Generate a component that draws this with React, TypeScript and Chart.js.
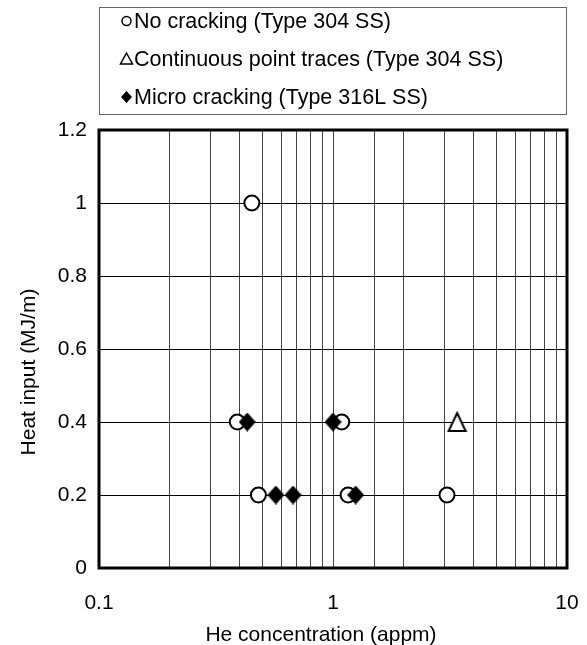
import React, { useEffect, useRef } from "react";
import { Chart, registerables } from "chart.js";

Chart.register(...registerables);

const legendLabels = [
  "No cracking (Type 304 SS)",
  "Continuous point traces (Type 304 SS)",
  "Micro cracking (Type 316L SS)",
];
const noCrackX = [0.45, 0.39, 1.09, 0.48, 1.16, 3.07];
const noCrackY = [1.0, 0.4, 0.4, 0.2, 0.2, 0.2];
const traceX = [3.39];
const traceY = [0.4];
const microX = [0.43, 1.0, 0.57, 0.675, 1.25];
const microY = [0.4, 0.4, 0.2, 0.2, 0.2];
const xTickLabels = [0.1, 1, 10];
const yTicks = [0, 0.2, 0.4, 0.6, 0.8, 1, 1.2];
const xTitle = "He concentration (appm)";
const yTitle = "Heat input (MJ/m)";

const FONT = "'Liberation Sans', Arial, sans-serif";

function zip(xs: number[], ys: number[]) {
  return xs.map((x, i) => ({ x, y: ys[i] }));
}

function makeTriangle(w: number, h: number, lw: number) {
  const c = document.createElement("canvas");
  c.width = w + lw * 2;
  c.height = h + lw * 2;
  const ctx = c.getContext("2d")!;
  ctx.lineWidth = lw;
  ctx.strokeStyle = "#000";
  ctx.fillStyle = "#fff";
  ctx.beginPath();
  ctx.moveTo(c.width / 2, lw);
  ctx.lineTo(c.width - lw, c.height - lw);
  ctx.lineTo(lw, c.height - lw);
  ctx.closePath();
  ctx.fill();
  ctx.stroke();
  return c;
}

function makeDiamond(w: number, h: number) {
  const c = document.createElement("canvas");
  c.width = w;
  c.height = h;
  const ctx = c.getContext("2d")!;
  ctx.fillStyle = "#000";
  ctx.beginPath();
  ctx.moveTo(w / 2, 0);
  ctx.lineTo(w, h / 2);
  ctx.lineTo(w / 2, h);
  ctx.lineTo(0, h / 2);
  ctx.closePath();
  ctx.fill();
  return c;
}

const decorPlugin = {
  id: "decor",
  afterDraw(chart: any) {
    const { ctx, chartArea } = chart;
    ctx.save();
    // plot border
    ctx.lineWidth = 3;
    ctx.strokeStyle = "#000";
    ctx.strokeRect(
      chartArea.left,
      chartArea.top,
      chartArea.right - chartArea.left,
      chartArea.bottom - chartArea.top
    );
    // axis titles
    ctx.fillStyle = "#000";
    ctx.font = `21px ${FONT}`;
    ctx.textAlign = "center";
    ctx.textBaseline = "alphabetic";
    ctx.fillText(xTitle, 321, 641);
    ctx.save();
    ctx.translate(35, 372);
    ctx.rotate(-Math.PI / 2);
    ctx.fillText(yTitle, 0, 0);
    ctx.restore();

    // legend box
    const lx = 99.5, ly = 7.5, lw = 467, lh = 107;
    ctx.lineWidth = 1;
    ctx.strokeStyle = "#666";
    ctx.strokeRect(lx, ly, lw, lh);
    const baselines = [28, 66, 104];
    const mx = 126.5;
    ctx.textAlign = "left";
    ctx.font = `21.5px ${FONT}`;
    legendLabels.forEach((label, i) => {
      const by = baselines[i];
      const cy = by - 7;
      ctx.strokeStyle = "#000";
      ctx.fillStyle = "#000";
      ctx.lineWidth = 1.5;
      if (i === 0) {
        ctx.beginPath();
        ctx.arc(mx, cy, 4.5, 0, Math.PI * 2);
        ctx.stroke();
      } else if (i === 1) {
        ctx.beginPath();
        ctx.moveTo(mx, cy - 6);
        ctx.lineTo(mx + 6, cy + 5);
        ctx.lineTo(mx - 6, cy + 5);
        ctx.closePath();
        ctx.stroke();
      } else {
        ctx.beginPath();
        ctx.moveTo(mx, cy - 6);
        ctx.lineTo(mx + 5.5, cy);
        ctx.lineTo(mx, cy + 6);
        ctx.lineTo(mx - 5.5, cy);
        ctx.closePath();
        ctx.fill();
      }
      ctx.fillStyle = "#000";
      ctx.fillText(label, 134, by);
    });
    ctx.restore();
  },
};

export default function App() {
  const ref = useRef<HTMLCanvasElement | null>(null);
  useEffect(() => {
    if (!ref.current) return;
    const tri = makeTriangle(17, 18, 2);
    const dia = makeDiamond(17, 19);
    const chart = new Chart(ref.current, {
      type: "scatter",
      data: {
        datasets: [
          {
            label: legendLabels[0],
            data: zip(noCrackX, noCrackY),
            pointStyle: "circle",
            pointRadius: 7.5,
            pointBorderWidth: 2,
            pointBorderColor: "#000",
            pointBackgroundColor: "#fff",
            order: 2,
          },
          {
            label: legendLabels[1],
            data: zip(traceX, traceY),
            pointStyle: tri as any,
            pointRadius: 10,
            order: 1,
          },
          {
            label: legendLabels[2],
            data: zip(microX, microY),
            pointStyle: dia as any,
            pointRadius: 9,
            order: 0,
          },
        ],
      },
      options: {
        responsive: false,
        animation: false,
        layout: { padding: { left: 0, right: 20, top: 130, bottom: 0 } },
        plugins: {
          legend: { display: false },
          tooltip: { enabled: false },
        },
        scales: {
          x: {
            type: "logarithmic",
            min: 0.1,
            max: 10,
            afterFit(scale: any) {
              scale.height = 77;
              scale.paddingLeft = 0;
              scale.paddingRight = 0;
            },
            grid: { color: "#444", lineWidth: 1, drawTicks: false },
            border: { display: false },
            ticks: {
              autoSkip: false,
              maxRotation: 0,
              padding: 23,
              color: "#000",
              font: { family: FONT, size: 21 },
              callback(v: any) {
                const n = Number(v);
                return xTickLabels.some((t) => Math.abs(t - n) < 1e-9) ? String(n) : "";
              },
            },
          },
          y: {
            type: "linear",
            min: yTicks[0],
            max: yTicks[yTicks.length - 1],
            afterFit(scale: any) {
              scale.width = 99;
              scale.paddingTop = 0;
              scale.paddingBottom = 0;
            },
            grid: { color: "#000", lineWidth: 1, drawTicks: false },
            border: { display: false },
            ticks: {
              stepSize: 0.2,
              padding: 12,
              color: "#000",
              font: { family: FONT, size: 21 },
              callback(v: any) {
                return String(Number(Number(v).toFixed(1)));
              },
            },
          },
        },
      },
      plugins: [decorPlugin],
    });
    return () => chart.destroy();
  }, []);
  return (
    <div style={{ position: "absolute", left: 0, top: 0, width: 587, height: 645, background: "#fff" }}>
      <canvas ref={ref} width={587} height={645} />
    </div>
  );
}
